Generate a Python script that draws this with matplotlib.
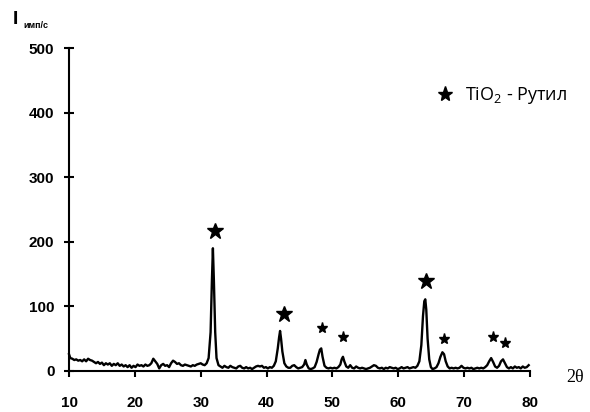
import matplotlib
matplotlib.use("Agg")
import matplotlib.pyplot as plt
from matplotlib.lines import Line2D

# diffractogram: (2theta, counts per second)
scan = [
    (10.0, 26), (10.2, 20), (10.5, 19), (10.8, 17), (11.1, 18), (11.4, 16), (11.7, 17),
    (12.0, 15), (12.3, 18), (12.6, 15), (12.9, 19), (13.2, 17), (13.5, 16), (13.8, 14),
    (14.1, 12), (14.4, 14), (14.7, 11), (15.0, 13), (15.3, 9), (15.6, 12), (15.9, 10),
    (16.2, 12), (16.5, 8), (16.8, 11), (17.1, 9), (17.4, 12), (17.7, 8), (18.0, 10),
    (18.3, 7), (18.6, 9), (18.9, 6), (19.2, 9), (19.5, 5), (19.8, 8), (20.1, 6),
    (20.4, 10), (20.7, 8), (21.0, 9), (21.3, 7), (21.6, 10), (21.9, 8), (22.2, 9),
    (22.5, 12), (22.8, 19), (23.1, 15), (23.4, 11), (23.7, 4), (24.0, 9), (24.3, 11),
    (24.6, 8), (24.9, 9), (25.2, 6), (25.5, 12), (25.8, 16), (26.1, 14), (26.4, 11),
    (26.7, 12), (27.0, 9), (27.3, 8), (27.6, 10), (27.9, 9), (28.2, 8), (28.5, 7),
    (28.8, 9), (29.1, 8), (29.4, 10), (29.7, 11), (30.0, 12), (30.3, 10), (30.6, 9),
    (30.9, 12), (31.2, 20), (31.5, 60), (31.7, 140), (31.85, 190), (32.0, 140), (32.2, 60),
    (32.4, 20), (32.7, 9), (33.0, 7), (33.3, 5), (33.6, 8), (33.9, 6), (34.2, 5),
    (34.5, 8), (34.8, 6), (35.1, 5), (35.4, 4), (35.7, 7), (36.0, 8), (36.3, 5),
    (36.6, 4), (36.9, 6), (37.2, 4), (37.5, 5), (37.8, 3), (38.1, 5), (38.4, 7),
    (38.7, 8), (39.0, 7), (39.3, 8), (39.6, 5), (39.9, 6), (40.2, 4), (40.5, 6),
    (40.8, 5), (41.1, 8), (41.4, 15), (41.7, 35), (41.9, 52), (42.05, 62), (42.2, 50),
    (42.4, 30), (42.7, 12), (43.0, 7), (43.3, 5), (43.6, 5), (43.9, 8), (44.2, 9),
    (44.5, 6), (44.8, 4), (45.1, 5), (45.4, 6), (45.7, 10), (45.9, 17), (46.1, 10),
    (46.4, 4), (46.7, 3), (47.0, 4), (47.3, 6), (47.6, 14), (47.9, 26), (48.1, 33),
    (48.3, 35), (48.5, 22), (48.8, 8), (49.1, 5), (49.4, 4), (49.7, 5), (50.0, 4),
    (50.3, 5), (50.6, 4), (50.9, 6), (51.2, 10), (51.4, 18), (51.6, 22), (51.8, 15),
    (52.1, 7), (52.4, 5), (52.7, 9), (53.0, 5), (53.3, 4), (53.6, 7), (53.9, 5),
    (54.2, 4), (54.5, 5), (54.8, 4), (55.1, 3), (55.4, 4), (55.7, 5), (56.0, 7),
    (56.3, 9), (56.6, 8), (56.9, 5), (57.2, 4), (57.5, 5), (57.8, 3), (58.1, 5),
    (58.4, 4), (58.7, 6), (59.0, 5), (59.3, 4), (59.6, 5), (59.9, 3), (60.2, 4),
    (60.5, 6), (60.8, 4), (61.1, 5), (61.4, 6), (61.7, 4), (62.0, 5), (62.3, 6),
    (62.6, 5), (62.9, 8), (63.2, 15), (63.5, 40), (63.75, 85), (63.95, 108), (64.1, 111),
    (64.25, 95), (64.45, 50), (64.7, 18), (64.95, 6), (65.2, 3), (65.5, 4), (65.8, 6),
    (66.1, 12), (66.4, 22), (66.7, 29), (66.95, 26), (67.2, 15), (67.5, 7), (67.8, 4),
    (68.1, 5), (68.4, 4), (68.7, 5), (69.0, 4), (69.3, 5), (69.6, 8), (69.9, 5),
    (70.2, 4), (70.5, 5), (70.8, 4), (71.1, 5), (71.4, 3), (71.7, 4), (72.0, 5),
    (72.3, 4), (72.6, 5), (72.9, 4), (73.2, 6), (73.5, 9), (73.8, 15), (74.1, 20),
    (74.4, 14), (74.7, 7), (75.0, 5), (75.3, 8), (75.6, 15), (75.9, 18), (76.2, 12),
    (76.5, 6), (76.8, 4), (77.1, 6), (77.4, 4), (77.7, 7), (78.0, 5), (78.3, 6),
    (78.6, 4), (78.9, 7), (79.2, 5), (79.5, 6), (79.8, 9),
]
two_theta = [p[0] for p in scan]
intensity = [p[1] for p in scan]

# rutile reflections marked with stars
major_star_x = [32.15, 42.6, 64.2]
major_star_y = [217, 88, 140]
minor_star_x = [48.35, 51.6, 66.95, 74.4, 76.2]
minor_star_y = [67, 53, 50, 52, 44]

x_ticks = [10, 20, 30, 40, 50, 60, 70, 80]
y_ticks = [0, 100, 200, 300, 400, 500]

plt.rcParams['font.family'] = ['Liberation Sans', 'DejaVu Sans']
plt.rcParams['mathtext.fontset'] = 'custom'
plt.rcParams['mathtext.rm'] = 'Open Sans'

fig = plt.figure(figsize=(5.9, 4.12), dpi=100)
ax = fig.add_axes([69 / 590, 1 - 371 / 412, 461 / 590, 323 / 412])

ax.plot(two_theta, intensity, color='black', lw=1.7, clip_on=False)
ax.plot(major_star_x, major_star_y, ls='none', marker='*', ms=12, color='black')
ax.plot(minor_star_x, minor_star_y, ls='none', marker='*', ms=8, color='black')

ax.set_xlim(10, 80)
ax.set_ylim(0, 500)
ax.set_xticks(x_ticks)
ax.set_yticks(y_ticks)

for side in ['top', 'right']:
    ax.spines[side].set_visible(False)
for side in ['left', 'bottom']:
    ax.spines[side].set_linewidth(1.5)

ax.tick_params(axis='y', direction='inout', length=7, width=1.5, pad=7, labelsize=11)
ax.tick_params(axis='x', direction='out', length=4, width=1.5, pad=14, labelsize=11)
for lab in ax.get_xticklabels() + ax.get_yticklabels():
    lab.set_fontweight('bold')

# axis captions as in the original
fig.text(13 / 590, 1 - 19 / 412, 'I', fontsize=14, fontweight='bold', va='center', ha='left')
fig.text(23 / 590, 1 - 25 / 412, 'имп/с', fontsize=6.5, fontweight='bold', va='center', ha='left')
fig.text(566 / 590, 1 - 378 / 412, '2θ', fontsize=13, family='Liberation Serif', va='center', ha='left')

handle = Line2D([], [], ls='none', marker='*', ms=11, color='black',
                label='TiO$_{\\mathregular{2}}$ - Рутил')
ax.legend(handles=[handle], loc='center left', bbox_to_anchor=(436 / 590, 1 - 96 / 412),
          bbox_transform=fig.transFigure, frameon=False, handlelength=1.0,
          handletextpad=0.6, borderpad=0, borderaxespad=0,
          prop={'family': 'Open Sans', 'size': 13})

fig.savefig('out.png', dpi=100)
